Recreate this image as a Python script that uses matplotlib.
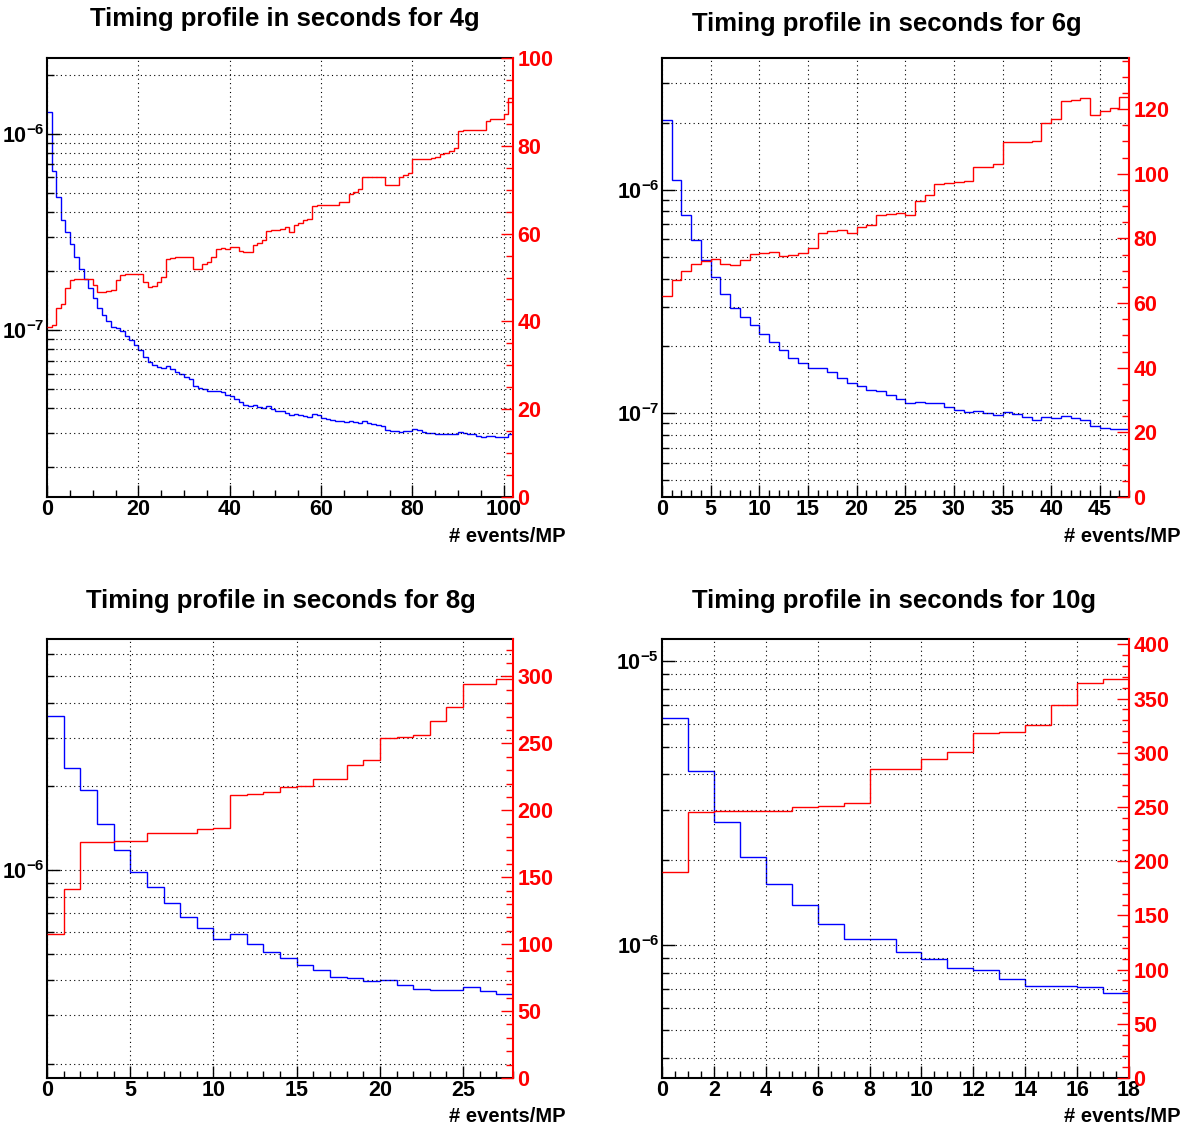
import numpy as np
import matplotlib
matplotlib.use('Agg')
import matplotlib.pyplot as plt
from matplotlib.ticker import MultipleLocator, LogLocator, NullFormatter, FuncFormatter

plt.rcParams['font.family'] = 'Liberation Sans'
plt.rcParams['font.weight'] = 'bold'
plt.rcParams['mathtext.fontset'] = 'custom'
plt.rcParams['mathtext.rm'] = 'Liberation Sans:bold'
plt.rcParams['mathtext.it'] = 'Liberation Sans:bold'
plt.rcParams['mathtext.bf'] = 'Liberation Sans:bold'

# ---- data (one bin per unit of # events/MP) ----
blue_4g = [1.29e-6, 6.50e-7, 4.77e-7, 3.64e-7, 3.15e-7, 2.74e-7, 2.35e-7, 2.06e-7, 1.83e-7, 1.64e-7,
           1.45e-7, 1.29e-7, 1.19e-7, 1.11e-7, 1.04e-7, 1.02e-7, 9.85e-8, 9.29e-8, 8.86e-8, 8.35e-8,
           7.96e-8, 7.31e-8, 6.89e-8, 6.63e-8, 6.47e-8, 6.40e-8, 6.60e-8, 6.35e-8, 6.13e-8, 5.96e-8,
           5.78e-8, 5.62e-8, 5.20e-8, 5.08e-8, 5.00e-8, 4.90e-8, 4.89e-8, 4.92e-8, 4.81e-8, 4.66e-8,
           4.59e-8, 4.47e-8, 4.30e-8, 4.13e-8, 4.09e-8, 4.13e-8, 4.06e-8, 4.03e-8, 4.08e-8, 3.98e-8,
           3.89e-8, 3.85e-8, 3.77e-8, 3.68e-8, 3.72e-8, 3.68e-8, 3.67e-8, 3.61e-8, 3.72e-8, 3.68e-8,
           3.58e-8, 3.54e-8, 3.49e-8, 3.43e-8, 3.43e-8, 3.40e-8, 3.45e-8, 3.39e-8, 3.38e-8, 3.45e-8,
           3.38e-8, 3.34e-8, 3.30e-8, 3.25e-8, 3.11e-8, 3.06e-8, 3.06e-8, 3.04e-8, 3.06e-8, 3.05e-8,
           3.14e-8, 3.10e-8, 3.04e-8, 3.00e-8, 2.99e-8, 2.97e-8, 2.96e-8, 2.94e-8, 2.94e-8, 2.94e-8,
           3.03e-8, 2.99e-8, 2.97e-8, 2.94e-8, 2.90e-8, 2.86e-8, 2.90e-8, 2.87e-8, 2.85e-8, 2.84e-8,
           2.84e-8, 2.94e-8]
red_4g = [38.8, 39.1, 43.1, 43.9, 47.7, 49.4, 49.6, 49.7, 49.7, 49.6,
          48.2, 46.8, 46.8, 46.9, 47.1, 49.4, 50.6, 50.7, 50.7, 50.7,
          50.7, 49.0, 47.8, 48.1, 49.0, 50.1, 54.3, 54.5, 54.6, 54.6,
          54.6, 54.6, 52.0, 52.0, 53.1, 53.5, 54.7, 56.6, 56.8, 56.6,
          57.0, 57.0, 56.0, 55.7, 55.8, 57.4, 57.8, 58.5, 60.7, 60.8,
          60.9, 61.0, 61.4, 60.4, 62.0, 62.4, 63.2, 63.4, 66.4, 66.5,
          66.5, 66.5, 66.5, 66.5, 67.3, 67.3, 69.0, 69.5, 70.2, 73.0,
          73.0, 73.0, 73.0, 73.0, 71.1, 71.1, 71.1, 72.9, 73.4, 73.7,
          77.0, 77.1, 76.9, 77.1, 77.2, 77.5, 78.1, 78.3, 78.8, 79.6,
          83.3, 83.5, 83.5, 83.5, 83.5, 83.6, 85.7, 86.0, 86.0, 86.0,
          87.2, 90.8]

blue_6g = [2.06e-6, 1.11e-6, 7.73e-7, 5.97e-7, 4.83e-7, 4.05e-7, 3.40e-7, 2.97e-7, 2.70e-7, 2.49e-7,
           2.26e-7, 2.09e-7, 1.91e-7, 1.77e-7, 1.67e-7, 1.60e-7, 1.60e-7, 1.52e-7, 1.43e-7, 1.36e-7,
           1.32e-7, 1.27e-7, 1.255e-7, 1.205e-7, 1.16e-7, 1.11e-7, 1.12e-7, 1.11e-7, 1.11e-7, 1.065e-7,
           1.036e-7, 1.01e-7, 1.02e-7, 9.97e-8, 9.76e-8, 1.01e-7, 9.9e-8, 9.57e-8, 9.33e-8, 9.57e-8,
           9.5e-8, 9.7e-8, 9.5e-8, 9.3e-8, 8.75e-8, 8.6e-8, 8.48e-8, 8.5e-8]
red_6g = [62.1, 67.0, 70.0, 72.1, 73.0, 73.5, 72.1, 71.7, 73.3, 75.1,
          75.4, 75.7, 74.7, 74.8, 75.6, 77.1, 81.8, 82.2, 82.5, 81.6,
          83.4, 84.0, 87.3, 87.6, 87.8, 87.1, 91.6, 93.3, 96.7, 97.1,
          97.3, 97.7, 102.0, 102.2, 103.0, 109.8, 109.8, 109.9, 110.0, 115.6,
          117.0, 122.5, 122.7, 123.3, 118.1, 119.4, 120.2, 123.6]

blue_8g = [3.58e-6, 2.34e-6, 1.94e-6, 1.46e-6, 1.18e-6, 9.81e-7, 8.68e-7, 7.58e-7, 6.77e-7, 6.18e-7,
           5.65e-7, 5.86e-7, 5.41e-7, 5.08e-7, 4.80e-7, 4.54e-7, 4.36e-7, 4.12e-7, 4.09e-7, 3.98e-7,
           4.03e-7, 3.86e-7, 3.72e-7, 3.70e-7, 3.69e-7, 3.79e-7, 3.66e-7, 3.56e-7]
red_8g = [107.8, 141.0, 176.2, 176.2, 177.2, 177.2, 183.2, 183.2, 183.4, 185.7,
          186.9, 211.1, 211.9, 213.9, 217.1, 218.4, 223.1, 223.1, 233.8, 237.8,
          254.3, 254.6, 256.3, 266.8, 277.5, 294.5, 294.5, 298.0]

blue_10g = [6.34e-6, 4.10e-6, 2.72e-6, 2.04e-6, 1.64e-6, 1.38e-6, 1.19e-6, 1.055e-6, 1.05e-6, 9.47e-7,
            8.9e-7, 8.3e-7, 8.16e-7, 7.58e-7, 7.2e-7, 7.15e-7, 7.1e-7, 6.8e-7]
red_10g = [189.8, 245.3, 245.9, 246.5, 246.5, 250.2, 250.8, 254.0, 284.7, 284.7,
           294.3, 300.5, 318.3, 319.3, 325.7, 343.9, 364.6, 368.3]

W, H = 1189, 1132


def px_rect(left, top, right, bottom):
    return [left / W, 1 - bottom / H, (right - left) / W, (bottom - top) / H]


def decade_label(v, pos):
    return r'$10^{%d}$' % int(round(np.log10(v)))


def draw_panel(fig, rect, blue, red, xmax, ylo, yhi, rmax, xmaj, xmin, rmaj, rmin):
    ax = fig.add_axes(rect)
    edges = np.arange(len(blue) + 1)
    ax.set_yscale('log')
    ax.stairs(blue, edges, color='blue', lw=1.0, baseline=None)
    ax.set_xlim(0, xmax)
    ax.set_ylim(ylo, yhi)
    ax.xaxis.set_major_locator(MultipleLocator(xmaj))
    ax.xaxis.set_minor_locator(MultipleLocator(xmin))
    ax.yaxis.set_major_locator(LogLocator(base=10))
    ax.yaxis.set_minor_locator(LogLocator(base=10, subs=np.arange(2, 10)))
    ax.yaxis.set_major_formatter(FuncFormatter(decade_label))
    ax.yaxis.set_minor_formatter(NullFormatter())
    ax.grid(True, which='major', axis='x', color='black', ls=(0, (1, 3)), lw=0.8)
    ax.grid(True, which='both', axis='y', color='black', ls=(0, (1, 3)), lw=0.8)
    ax.tick_params(which='both', direction='in', top=False, right=False,
                   labelsize=15.5, width=1.0, color='black')
    ax.tick_params(axis='x', which='both', pad=1.5)
    ax.tick_params(axis='y', which='both', pad=2)
    ax.tick_params(which='major', length=9)
    ax.tick_params(which='minor', length=5)
    ax.spines['right'].set_visible(False)
    for s in ['left', 'bottom', 'top']:
        ax.spines[s].set_linewidth(1.5)

    ax2 = ax.twinx()
    ax2.stairs(red, edges, color='red', lw=1.0, baseline=None)
    ax2.set_xlim(0, xmax)
    ax2.set_ylim(0, rmax)
    ax2.yaxis.set_major_locator(MultipleLocator(rmaj))
    ax2.yaxis.set_minor_locator(MultipleLocator(rmin))
    ax2.tick_params(which='both', direction='in', colors='red', labelsize=15.5,
                    width=1.0, pad=3)
    ax2.tick_params(which='major', length=9)
    ax2.tick_params(which='minor', length=5)
    for s in ['left', 'bottom', 'top']:
        ax2.spines[s].set_visible(False)
    ax2.spines['right'].set_color('red')
    ax2.spines['right'].set_linewidth(1.5)
    return ax, ax2


fig = plt.figure(figsize=(W / 100, H / 100), dpi=100)

draw_panel(fig, px_rect(47, 58, 513, 497), blue_4g, red_4g, 102, 1.41e-8, 2.44e-6, 100, 20, 5, 20, 5)
draw_panel(fig, px_rect(662, 58, 1129, 497), blue_6g, red_6g, 48, 4.21e-8, 3.89e-6, 135.8, 5, 1, 20, 5)
draw_panel(fig, px_rect(47, 639, 513, 1078), blue_8g, red_8g, 28, 1.78e-7, 6.8e-6, 328, 5, 1, 50, 10)
draw_panel(fig, px_rect(662, 639, 1129, 1078), blue_10g, red_10g, 18, 3.4e-7, 1.2e-5, 405, 2, 0.5, 50, 10)

titles = ['Timing profile in seconds for 4g', 'Timing profile in seconds for 6g',
          'Timing profile in seconds for 8g', 'Timing profile in seconds for 10g']
title_pos = [(285, 19), (887, 24), (281, 601), (894, 601)]
xlabel_pos = [(566, 536), (1181, 536), (566, 1117), (1181, 1117)]

for t, (tx, ty) in zip(titles, title_pos):
    fig.text(tx / W, 1 - ty / H, t, ha='center', va='center', fontsize=18.5, fontweight='bold')
for (lx, ly) in xlabel_pos:
    fig.text(lx / W, 1 - ly / H, '# events/MP', ha='right', va='center', fontsize=14.5, fontweight='bold')

fig.savefig('out.png', dpi=100)
